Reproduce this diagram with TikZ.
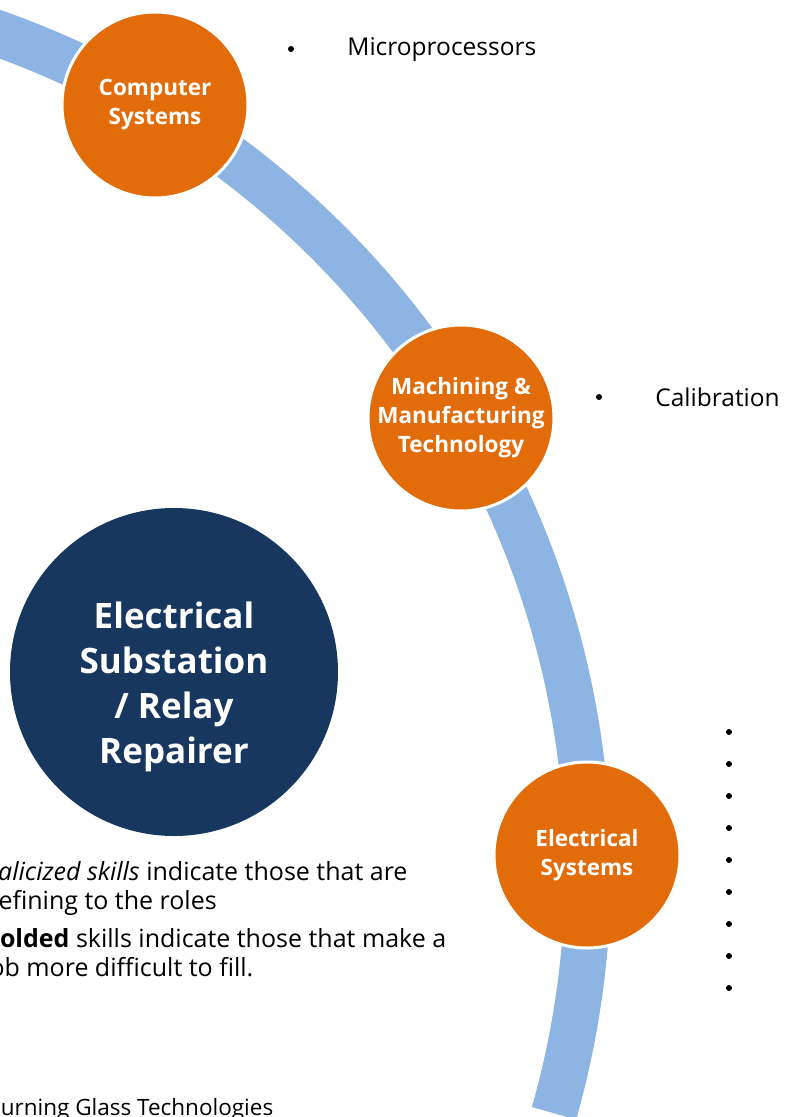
\documentclass[tikz,border=0pt]{standalone}
\usepackage{fontspec}
\setmainfont{Open Sans}
\usetikzlibrary{positioning}
\definecolor{arcblue}{HTML}{8EB4E3}
\definecolor{skillorange}{HTML}{E36C0A}
\definecolor{rolenavy}{HTML}{17375E}
\tikzset{
  band/.style={draw=arcblue,line width=46pt},
  cluster/.style={circle,fill=skillorange,draw=white,line width=3pt,minimum size=186pt,
                  inner sep=0pt,align=center,text=white,font=\fontsize{22.5}{29}\selectfont\bfseries},
  role/.style={circle,fill=rolenavy,minimum size=328pt,inner sep=0pt},
  rolelabel/.style={align=center,text=white,font=\fontsize{35}{45}\selectfont\bfseries},
  dot/.style={circle,fill=black,minimum size=6pt,inner sep=0pt},
  skill/.style={inner sep=0pt,font=\fontsize{24.5}{29}\selectfont},
  note/.style={anchor=north west,inner sep=0pt,align=left,font=\fontsize{25}{29}\selectfont}
}

\begin{document}
\begin{tikzpicture}[x=1pt,y=-1pt,node distance=53pt]
  \useasboundingbox (0,0) rectangle (788,1117);
  \clip (0,0) rectangle (788,1117);
  \fill[white] (0,0) rectangle (788,1117);
  % the career path
  \draw[band] (-300,870) ++(-75:888) arc[start angle=-75,end angle=15.9,radius=888];
  \node[cluster] (comp) at (155,105) {Computer\\Systems};
  \node[cluster] (mach) at (461,418) {Machining \&\\Manufacturing\\Technology};
  \node[cluster] (elec) at (587,855) {Electrical\\Systems};
  \node[role] (role) at (174,672) {};
  \node[rolelabel] (roletext) at (174,687) {Electrical\\Substation\\/ Relay\\Repairer};
  % skills
  \node[dot] (compdot) at (291,49) {};
  \node[skill,right=of compdot] (micro) {Microprocessors};
  \node[dot] (machdot) at (599,397) {};
  \node[skill,right=of machdot] (calib) {Calibration};
  \foreach \i in {0,...,8}
    \node[dot] (elecdot\i) at (729,{732+32*\i}) {};
  % notes
  \node[note] (italnote) at (-17,861) {\textit{Italicized skills} indicate those that are\\defining to the roles};
  \node[note] (boldnote) at (-17,928) {\textbf{Bolded} skills indicate those that make a\\job more difficult to fill.};
  \node[anchor=base west,inner sep=0pt,font=\fontsize{22.5}{26}\selectfont] (source) at (-14,1115) {Burning Glass Technologies};
\end{tikzpicture}
\end{document}
